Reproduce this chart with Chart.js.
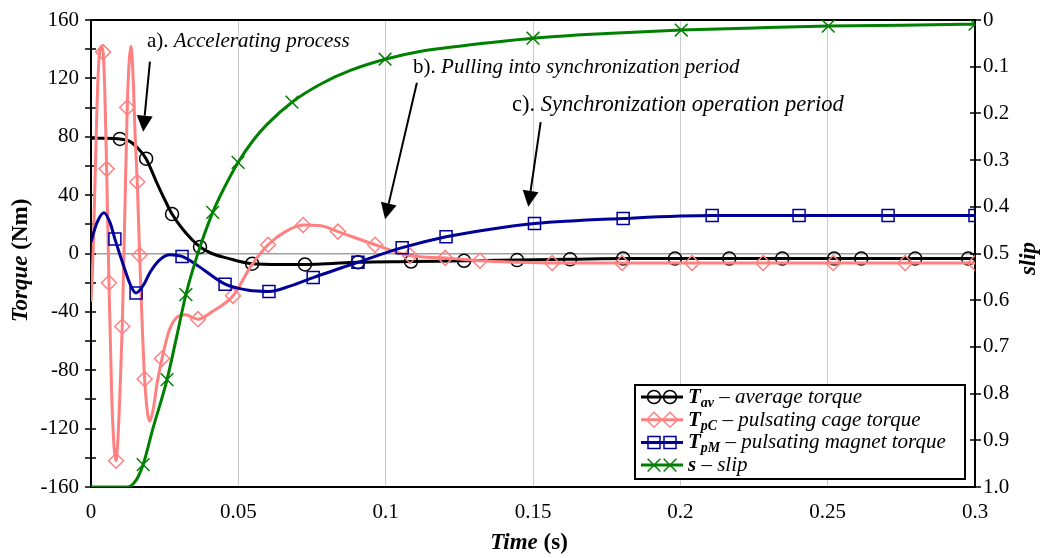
<!DOCTYPE html>
<html lang="en">
<head>
<meta charset="UTF-8">
<title>Torque and slip during start-up</title>
<script src="https://cdn.jsdelivr.net/npm/chart.js@4.4.1/dist/chart.umd.min.js"></script>
<style>
  body { margin: 0; background: #fff; }
  #wrap { width: 1044px; height: 558px; }
</style>
</head>
<body>
<div id="wrap"><canvas id="torqueChart" width="1044" height="558"></canvas></div>
<script>
// T_av - average torque (Nm); marks = 1 where a circle marker is shown
const avgTime = [0, 0.005, 0.0098, 0.013, 0.016, 0.0187, 0.022, 0.025, 0.0275, 0.031, 0.037, 0.041, 0.046, 0.0547, 0.064, 0.0726, 0.080, 0.0906, 0.1086, 0.1266, 0.1446, 0.1626, 0.1806, 0.1982, 0.2166, 0.2346, 0.2522, 0.2614, 0.2797, 0.2977, 0.3];
const avgTorque = [79, 79, 78.5, 77, 72, 65, 50, 37, 27, 17, 4.5, 0, -3, -7, -7.5, -7.5, -7, -6, -5.5, -5, -4.5, -4, -3.5, -3.5, -3.5, -3.5, -3.5, -3.5, -3.5, -3.5, -3.5];
const avgMarks = [0, 0, 1, 0, 0, 1, 0, 0, 1, 0, 1, 0, 0, 1, 0, 1, 0, 1, 1, 1, 1, 1, 1, 1, 1, 1, 1, 1, 1, 1, 0];

// T_pC - pulsating cage torque (Nm)
const cageTime = [0, 0.0007, 0.0015, 0.0024, 0.0034, 0.0041, 0.0047, 0.0053, 0.0061, 0.0070, 0.0078, 0.0085, 0.0092, 0.0100, 0.0106, 0.0114, 0.0123, 0.0130, 0.0136, 0.0143, 0.0150, 0.0157, 0.0165, 0.0174, 0.0182, 0.0191, 0.0199, 0.0210, 0.0225, 0.0241, 0.0265, 0.0290, 0.0320, 0.0363, 0.0410, 0.0482, 0.0545, 0.0601, 0.0660, 0.0720, 0.0780, 0.0838, 0.0964, 0.1083, 0.1202, 0.1320, 0.1445, 0.1565, 0.1802, 0.2040, 0.2281, 0.2519, 0.2763, 0.3];
const cageTorque = [-33, 0, 60, 122, 142, 138, 110, 58, -20, -95, -132, -142, -125, -85, -50, 20, 100, 133, 142, 120, 80, 49, -1, -50, -86, -108, -115, -108, -88, -72, -53, -44, -42, -45, -40, -29, -8, 6, 15, 19.5, 19, 15, 6, -1.5, -3, -5, -6, -6.5, -6.5, -6.5, -6.5, -6.5, -6.5, -6.5];
const cageMarks = [0, 0, 0, 0, 0, 1, 0, 1, 1, 0, 0, 1, 0, 0, 1, 0, 1, 0, 0, 0, 0, 1, 1, 0, 1, 0, 0, 0, 0, 1, 0, 0, 0, 1, 0, 1, 0, 1, 0, 1, 0, 1, 1, 1, 1, 1, 0, 1, 1, 1, 1, 1, 1, 1];

// T_pM - pulsating magnet torque (Nm)
const magTime = [0, 0.002, 0.0044, 0.0065, 0.0081, 0.011, 0.0137, 0.0153, 0.018, 0.020, 0.0235, 0.0268, 0.0309, 0.036, 0.0455, 0.053, 0.0604, 0.068, 0.0754, 0.0906, 0.1056, 0.1205, 0.135, 0.1505, 0.1806, 0.2108, 0.2403, 0.2705, 0.3];
const magTorque = [8, 21, 28, 21, 10, -8, -23, -27, -21, -13, -4, -0.8, -2, -8, -21, -25, -26, -22, -16.5, -6, 4, 11.5, 16.5, 20.5, 24, 26, 26, 26, 26];
const magMarks = [0, 0, 0, 0, 1, 0, 0, 1, 0, 0, 0, 0, 1, 0, 1, 0, 1, 0, 1, 1, 1, 1, 0, 1, 1, 1, 1, 1, 1];

// s - slip (right axis, reversed)
const slipTime = [0, 0.0125, 0.0145, 0.016, 0.0177, 0.021, 0.0258, 0.029, 0.0322, 0.036, 0.0413, 0.045, 0.0499, 0.055, 0.060, 0.0682, 0.078, 0.088, 0.0998, 0.112, 0.125, 0.150, 0.175, 0.2003, 0.225, 0.2502, 0.275, 0.3];
const slipValue = [1, 1, 0.992, 0.978, 0.952, 0.875, 0.77, 0.68, 0.588, 0.505, 0.412, 0.362, 0.305, 0.258, 0.222, 0.176, 0.137, 0.108, 0.084, 0.067, 0.056, 0.039, 0.029, 0.0215, 0.017, 0.013, 0.011, 0.009];
const slipMarks = [0, 0, 0, 0, 1, 0, 1, 0, 1, 0, 1, 0, 1, 0, 0, 1, 0, 0, 1, 0, 0, 1, 0, 1, 0, 1, 0, 1];

// legend text pieces
const legendMain = ['T', 'T', 'T', 's'];
const legendSub = ['av', 'pC', 'pM', ''];
const legendRest = [' \u2013 average torque', ' \u2013 pulsating cage torque', ' \u2013 pulsating magnet torque', ' \u2013 slip'];

// annotations, placed in data units (time, torque)
const notes = [
    { tag: 'a). ', text: 'Accelerating process', size: 21, at: [0.0190, 145], from: [0.0200, 131.5], to: [0.0177, 83.5] },
    { tag: 'b). ', text: 'Pulling into synchronization period', size: 21, at: [0.1093, 127.5], from: [0.1106, 117], to: [0.0998, 23.5] },
    { tag: 'c). ', text: 'Synchronization operation period', size: 22.5, at: [0.1429, 101.5], from: [0.1526, 90], to: [0.1484, 32] }
];

const SERIF = '"Liberation Serif", "Times New Roman", serif';
const LEFT_W = 91, RIGHT_W = 69, BOTTOM_H = 71, TOP_PAD = 20;

function toPoints(ts, vs) {
    return ts.map((t, i) => ({ x: t, y: vs[i] }));
}

function series(label, ts, vs, marks, color, style, radius, axis, order) {
    return {
        label: label,
        data: toPoints(ts, vs),
        yAxisID: axis,
        showLine: true,
        borderColor: color,
        borderWidth: 3,
        cubicInterpolationMode: 'monotone',
        pointStyle: style,
        pointRadius: ctx => marks[ctx.dataIndex] ? radius : 0,
        pointHoverRadius: ctx => marks[ctx.dataIndex] ? radius : 0,
        pointBorderColor: color,
        pointBorderWidth: 1.5,
        pointBackgroundColor: 'rgba(0,0,0,0)',
        order: order
    };
}

function drawRuns(ctx, runs, x, y) {
    let cx = x;
    runs.forEach(r => {
        ctx.font = r.font;
        ctx.fillText(r.text, cx, y + (r.dy || 0));
        cx += ctx.measureText(r.text).width;
    });
    return cx - x;
}

function runsWidth(ctx, runs) {
    let w = 0;
    runs.forEach(r => { ctx.font = r.font; w += ctx.measureText(r.text).width; });
    return w;
}

function drawMarker(ctx, style, x, y, r) {
    ctx.beginPath();
    if (style === 'circle') {
        ctx.arc(x, y, r, 0, Math.PI * 2);
    } else if (style === 'rectRot') {
        ctx.moveTo(x, y - r); ctx.lineTo(x + r, y); ctx.lineTo(x, y + r); ctx.lineTo(x - r, y); ctx.closePath();
    } else if (style === 'rect') {
        const h = r * Math.SQRT1_2;
        ctx.rect(x - h, y - h, 2 * h, 2 * h);
    } else {
        const h = r * Math.SQRT1_2;
        ctx.moveTo(x - h, y - h); ctx.lineTo(x + h, y + h);
        ctx.moveTo(x + h, y - h); ctx.lineTo(x - h, y + h);
    }
    ctx.stroke();
}

// vertical axes: fixed width, no extra room for the end labels
function fitSide(width) {
    return s => {
        s.width = width;
        s.paddingTop = 0;
        s.paddingBottom = 0;
    };
}

// plot frame and tick marks crossing the axes
const framePlugin = {
    id: 'frame',
    beforeDatasetsDraw(chart) {
        const ctx = chart.ctx, a = chart.chartArea;
        ctx.save();
        ctx.strokeStyle = '#000';
        ctx.lineWidth = 2;
        ctx.strokeRect(a.left, a.top, a.right - a.left, a.bottom - a.top);
        ctx.lineWidth = 1.5;
        ctx.beginPath();
        chart.scales.y.ticks.forEach(t => {
            const py = Math.round(chart.scales.y.getPixelForValue(t.value));
            ctx.moveTo(a.left - 6, py); ctx.lineTo(a.left + 5, py);
        });
        chart.scales.y2.ticks.forEach(t => {
            const py = Math.round(chart.scales.y2.getPixelForValue(t.value));
            ctx.moveTo(a.right - 5, py); ctx.lineTo(a.right + 6, py);
        });
        ctx.stroke();
        ctx.restore();
    }
};

// axis titles, arrows with notes, legend box
const textPlugin = {
    id: 'texts',
    afterDraw(chart) {
        const ctx = chart.ctx, a = chart.chartArea;
        const xs = chart.scales.x, ys = chart.scales.y;
        const tbi = 'italic bold 23px ' + SERIF, tb = 'bold 23px ' + SERIF;
        const bi = 'italic bold 21px ' + SERIF;
        const it = 'italic 21px ' + SERIF;
        ctx.save();
        ctx.fillStyle = '#000';
        ctx.textBaseline = 'middle';

        // left title
        let runs = [{ text: 'Torque', font: tbi }, { text: ' (Nm)', font: tb }];
        ctx.save();
        ctx.translate(21, (a.top + a.bottom) / 2 + 7);
        ctx.rotate(-Math.PI / 2);
        drawRuns(ctx, runs, -runsWidth(ctx, runs) / 2, 0);
        ctx.restore();

        // right title
        runs = [{ text: 'slip', font: tbi }];
        ctx.save();
        ctx.translate(1029, (a.top + a.bottom) / 2 + 5);
        ctx.rotate(-Math.PI / 2);
        drawRuns(ctx, runs, -runsWidth(ctx, runs) / 2, 0);
        ctx.restore();

        // bottom title
        runs = [{ text: 'Time', font: tbi }, { text: ' (s)', font: tb }];
        drawRuns(ctx, runs, (a.left + a.right) / 2 - 4 - runsWidth(ctx, runs) / 2, 543);

        // notes with arrows
        notes.forEach(n => {
            drawRuns(ctx, [{ text: n.tag, font: n.size + 'px ' + SERIF }, { text: n.text, font: 'italic ' + n.size + 'px ' + SERIF }],
                xs.getPixelForValue(n.at[0]), ys.getPixelForValue(n.at[1]));
            const x0 = xs.getPixelForValue(n.from[0]), y0 = ys.getPixelForValue(n.from[1]);
            const x1 = xs.getPixelForValue(n.to[0]), y1 = ys.getPixelForValue(n.to[1]);
            const ang = Math.atan2(y1 - y0, x1 - x0);
            const len = 16, half = 8;
            const bx = x1 - len * Math.cos(ang), by = y1 - len * Math.sin(ang);
            ctx.strokeStyle = '#000';
            ctx.lineWidth = 2;
            ctx.beginPath();
            ctx.moveTo(x0, y0); ctx.lineTo(bx, by);
            ctx.stroke();
            ctx.beginPath();
            ctx.moveTo(x1, y1);
            ctx.lineTo(bx + half * Math.sin(ang), by - half * Math.cos(ang));
            ctx.lineTo(bx - half * Math.sin(ang), by + half * Math.cos(ang));
            ctx.closePath();
            ctx.fill();
        });

        // legend
        const box = { x: 635, y: 385, w: 330, h: 94 };
        ctx.fillStyle = '#fff';
        ctx.fillRect(box.x, box.y, box.w, box.h);
        ctx.strokeStyle = '#000';
        ctx.lineWidth = 2;
        ctx.strokeRect(box.x, box.y, box.w, box.h);
        ctx.textBaseline = 'alphabetic';
        chart.data.datasets.forEach((ds, i) => {
            const ry = box.y + 12 + i * 22.7;
            ctx.strokeStyle = ds.borderColor;
            ctx.lineWidth = 3;
            ctx.beginPath();
            ctx.moveTo(box.x + 6, ry); ctx.lineTo(box.x + 48, ry);
            ctx.stroke();
            ctx.lineWidth = 1.5;
            const r = ds.pointStyle === 'crossRot' ? 9 : (ds.pointStyle === 'rect' ? 8.5 : (ds.pointStyle === 'rectRot' ? 7.5 : 6.5));
            drawMarker(ctx, ds.pointStyle, box.x + 19, ry, r);
            drawMarker(ctx, ds.pointStyle, box.x + 35, ry, r);
            ctx.fillStyle = '#000';
            const base = ry + 6;
            const parts = [{ text: legendMain[i], font: bi }];
            if (legendSub[i]) parts.push({ text: legendSub[i], font: 'italic bold 14px ' + SERIF, dy: 4 });
            parts.push({ text: legendRest[i], font: it });
            drawRuns(ctx, parts, box.x + 53, base);
        });
        ctx.restore();
    }
};

const ctx = document.getElementById('torqueChart').getContext('2d');
const torqueChart = new Chart(ctx, {
    type: 'scatter',
    data: {
        datasets: [
            series('Tav', avgTime, avgTorque, avgMarks, '#000000', 'circle', 6.5, 'y', 4),
            series('TpC', cageTime, cageTorque, cageMarks, '#ff8080', 'rectRot', 7.5, 'y', 3),
            series('TpM', magTime, magTorque, magMarks, '#000099', 'rect', 8.5, 'y', 2),
            series('s', slipTime, slipValue, slipMarks, '#008000', 'crossRot', 9, 'y2', 1)
        ]
    },
    options: {
        responsive: false,
        animation: false,
        layout: { padding: { top: TOP_PAD, left: 0, right: 0, bottom: 0 } },
        plugins: {
            legend: { display: false },
            tooltip: { enabled: false }
        },
        font: { family: SERIF },
        scales: {
            x: {
                type: 'linear',
                min: 0,
                max: 0.3,
                afterFit: s => { s.height = BOTTOM_H; s.paddingLeft = 0; s.paddingRight = 0; },
                border: { display: false },
                grid: { color: '#cccccc', lineWidth: 1, drawTicks: false },
                ticks: {
                    stepSize: 0.05,
                    padding: 13,
                    autoSkip: false,
                    maxRotation: 0,
                    color: '#000',
                    font: { family: SERIF, size: 21 },
                    callback: v => String(Number(v.toFixed(2)))
                }
            },
            y: {
                position: 'left',
                min: -160,
                max: 160,
                afterFit: fitSide(LEFT_W),
                border: { display: false },
                grid: {
                    color: c => (c.tick && c.tick.value === 0) ? '#a0a0a0' : 'rgba(0,0,0,0)',
                    lineWidth: 1.5,
                    drawTicks: false
                },
                ticks: {
                    stepSize: 20,
                    padding: 12,
                    autoSkip: false,
                    color: '#000',
                    font: { family: SERIF, size: 21 },
                    callback: v => (v % 40 === 0) ? String(v) : ''
                }
            },
            y2: {
                position: 'right',
                min: 0,
                max: 1,
                reverse: true,
                afterFit: fitSide(RIGHT_W),
                border: { display: false },
                grid: { drawOnChartArea: false, drawTicks: false },
                ticks: {
                    stepSize: 0.1,
                    padding: 8,
                    autoSkip: false,
                    color: '#000',
                    font: { family: SERIF, size: 21 },
                    callback: v => {
                        const r = Math.round(v * 10) / 10;
                        return r === 1 ? '1.0' : String(r);
                    }
                }
            }
        }
    },
    plugins: [framePlugin, textPlugin]
});
</script>
</body>
</html>
